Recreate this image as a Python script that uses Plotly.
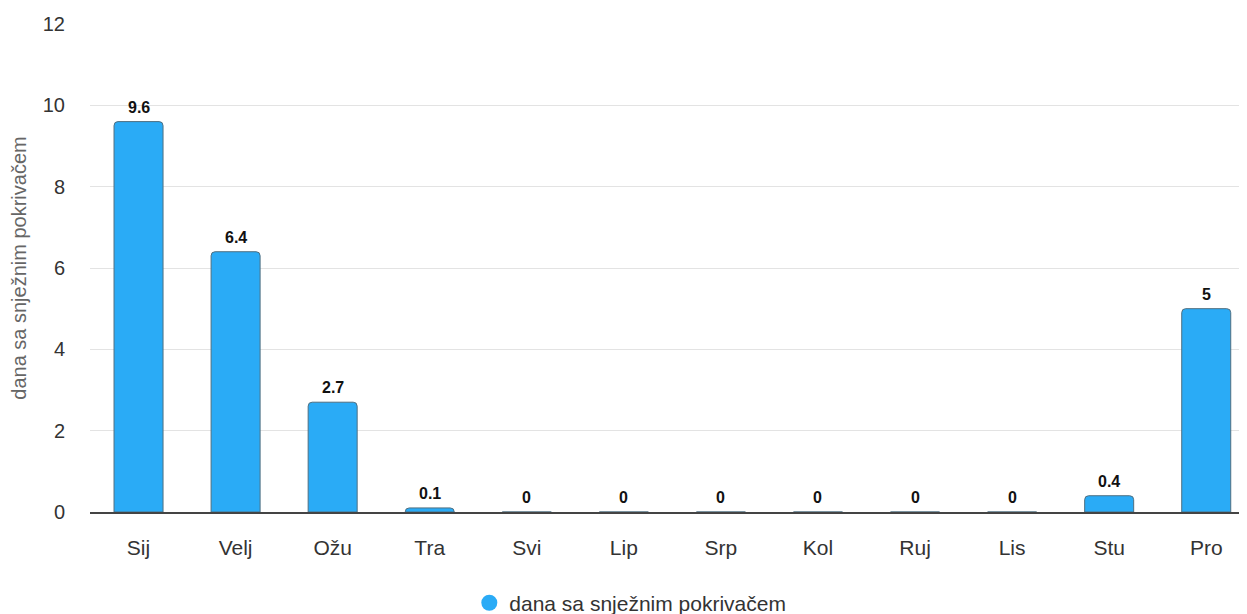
import plotly.graph_objects as go

months = ["Sij", "Velj", "Ožu", "Tra", "Svi", "Lip", "Srp", "Kol", "Ruj", "Lis", "Stu", "Pro"]
snow_days = [9.6, 6.4, 2.7, 0.1, 0, 0, 0, 0, 0, 0, 0.4, 5]
series_name = "dana sa snježnim pokrivačem"
y_ticks = [0, 2, 4, 6, 8, 10, 12]

color = "#2aabf6"
FONT = "Liberation Sans, Arial, sans-serif"

fig = go.Figure()
fig.add_trace(go.Bar(
    x=months, y=snow_days,
    marker=dict(color=color, line=dict(color="#4f6f80", width=1), cornerradius=4),
    width=0.505,
    showlegend=False,
    hoverinfo="x+y",
))
fig.add_trace(go.Scatter(
    x=[None], y=[None], mode="markers", name=series_name,
    marker=dict(color=color, size=17, symbol="circle"),
    showlegend=True,
))

for m, v in zip(months, snow_days):
    fig.add_annotation(x=m, y=v, text=f"<b>{v:g}</b>", showarrow=False,
                       yanchor="bottom", yshift=4,
                       font=dict(family=FONT, size=16, color="#111111"))

fig.update_layout(
    width=1239, height=606,
    margin=dict(l=82, r=0, t=16, b=102),
    plot_bgcolor="white", paper_bgcolor="white",
    font=dict(family=FONT, size=20, color="#333333"),
    legend=dict(orientation="h", x=0.467, xanchor="center", yref="container",
                y=0.018, yanchor="middle",
                font=dict(size=21, color="#333333"), itemsizing="trace"),
    xaxis=dict(showline=True, linecolor="#444444", linewidth=1.5, ticks="",
               range=[-0.5, 11.42], ticklabelstandoff=16, automargin=False,
               tickfont=dict(size=21, color="#333333"), showgrid=False),
    yaxis=dict(range=[0, 12], tickvals=y_ticks, gridcolor="#e3e3e3", zeroline=False,
               ticklabelstandoff=24, automargin=False,
               tickfont=dict(size=20, color="#333333"),
               title=dict(text=series_name, font=dict(size=20, color="#666666"), standoff=12)),
)

fig.write_html("out.html")
